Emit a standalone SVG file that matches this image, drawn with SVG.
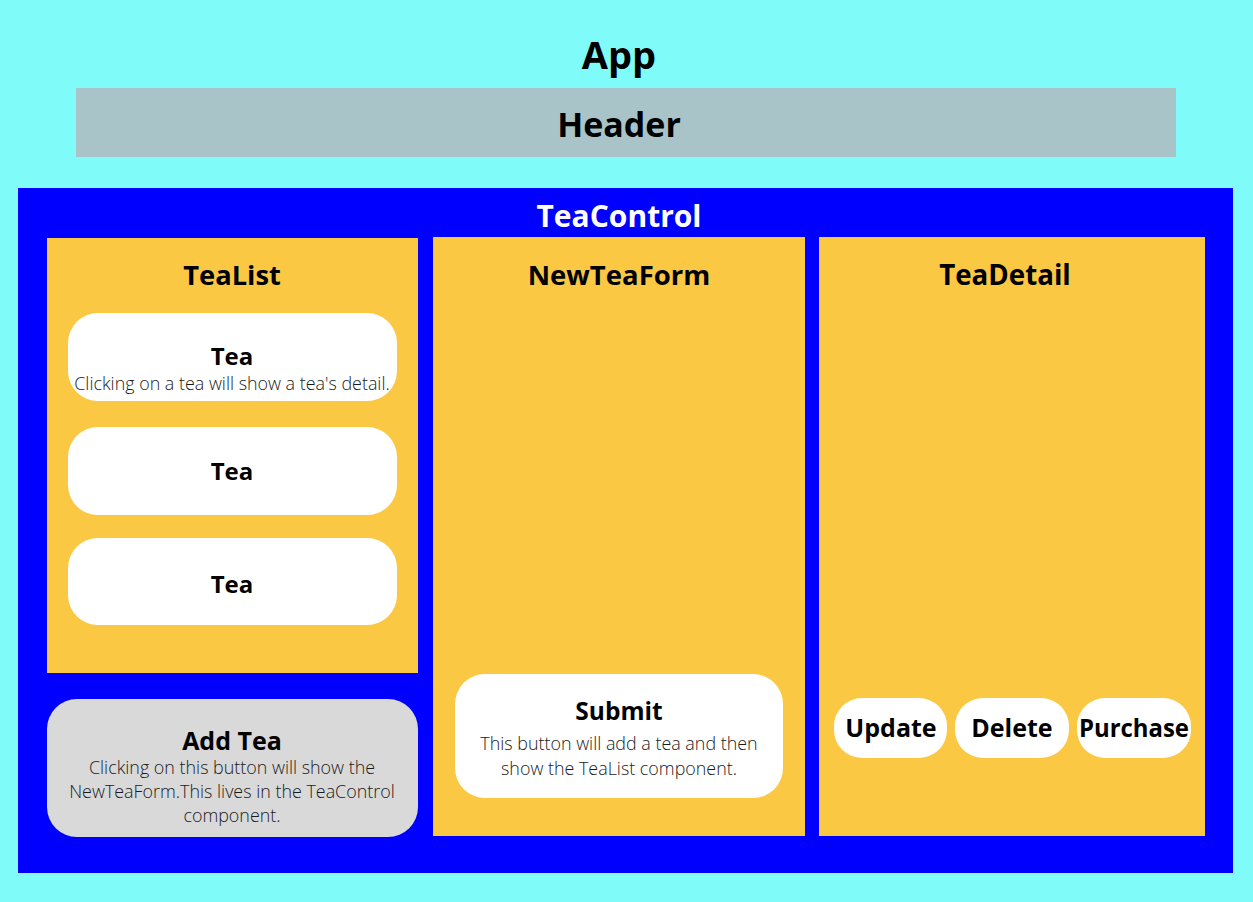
<svg xmlns="http://www.w3.org/2000/svg" width="1253" height="902" viewBox="0 0 1253 902">
  <style>
    .h { font-family: "Open Sans", "Liberation Sans", sans-serif; font-weight: 700; text-anchor: middle; fill: #000; }
    .t { font-family: "Open Sans", "Liberation Sans", sans-serif; font-weight: 300; font-size: 17.9px; text-anchor: middle; fill: #1a1a1a; }
    .panel { fill: #fbc844; }
    .card { fill: #ffffff; }
  </style>
  <!-- App background -->
  <g id="app">
    <rect x="0" y="0" width="1253" height="902" fill="#7ffcfa"/>
    <text class="h" x="619" y="69" font-size="38">App</text>
  </g>
  <g id="header">
    <rect x="76" y="88" width="1100" height="69" fill="#a9c4c8"/>
    <text class="h" x="619" y="137" font-size="34">Header</text>
  </g>
  <g id="teacontrol">
    <rect x="18" y="188" width="1215" height="685" fill="#0000ff"/>
    <text class="h" x="619" y="227" font-size="30" style="fill:#fff">TeaControl</text>
  </g>
  <g id="tealist">
    <rect class="panel" x="47" y="238" width="371" height="435"/>
    <text class="h" x="232" y="285" font-size="27.3">TeaList</text>
  </g>
  <g id="tea1">
    <rect class="card" x="68" y="313" width="329" height="88" rx="30"/>
    <text class="h" x="232" y="365" font-size="24">Tea</text>
    <text class="t" x="232" y="390">Clicking on a tea will show a tea's detail.</text>
  </g>
  <g id="tea2">
    <rect class="card" x="68" y="427" width="329" height="88" rx="30"/>
    <text class="h" x="232" y="480" font-size="24">Tea</text>
  </g>
  <g id="tea3">
    <rect class="card" x="68" y="538" width="329" height="87" rx="30"/>
    <text class="h" x="232" y="593" font-size="24">Tea</text>
  </g>
  <g id="addtea">
    <rect x="47" y="699" width="371" height="138" rx="30" fill="#d9d9d9"/>
    <text class="h" x="232" y="750" font-size="25">Add Tea</text>
    <text class="t" x="232" y="774">Clicking on this button will show the</text>
    <text class="t" x="232" y="798">NewTeaForm.This lives in the TeaControl</text>
    <text class="t" x="232" y="822">component.</text>
  </g>
  <g id="newteaform">
    <rect class="panel" x="433" y="237" width="372" height="599"/>
    <text class="h" x="619" y="285" font-size="27.5">NewTeaForm</text>
  </g>
  <g id="submit">
    <rect class="card" x="455" y="674" width="328" height="124" rx="30"/>
    <text class="h" x="619" y="720" font-size="24.5">Submit</text>
    <text class="t" x="619" y="750">This button will add a tea and then</text>
    <text class="t" x="619" y="775">show the TeaList component.</text>
  </g>
  <g id="teadetail">
    <rect class="panel" x="819" y="237" width="386" height="599"/>
    <text class="h" x="1005" y="285" font-size="27.7">TeaDetail</text>
  </g>
  <g id="update">
    <rect class="card" x="834" y="698" width="113" height="60" rx="28"/>
    <text class="h" x="891" y="737" font-size="25">Update</text>
  </g>
  <g id="delete">
    <rect class="card" x="955" y="698" width="114" height="60" rx="28"/>
    <text class="h" x="1012" y="737" font-size="25">Delete</text>
  </g>
  <g id="purchase">
    <rect class="card" x="1077" y="698" width="114" height="60" rx="28"/>
    <text class="h" x="1134" y="737" font-size="25" textLength="110" lengthAdjust="spacingAndGlyphs">Purchase</text>
  </g>
  <g id="connectors"/>
</svg>
